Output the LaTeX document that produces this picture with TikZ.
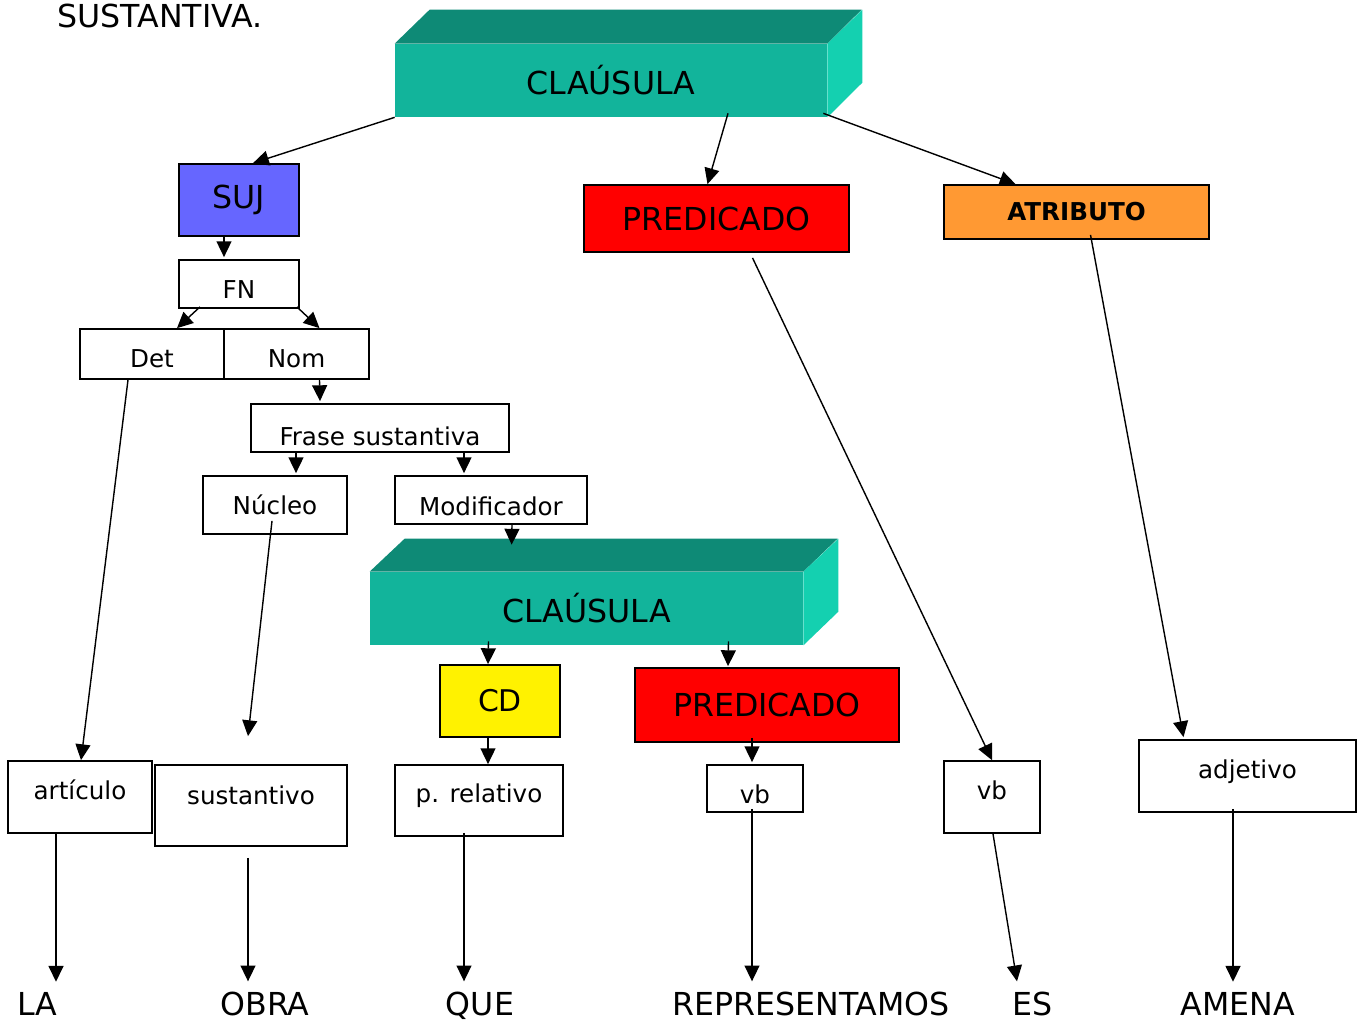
\documentclass[tikz,border=0pt]{standalone}
\usepackage{fontspec}
\setmainfont{DejaVu Sans}
\usetikzlibrary{arrows.meta,calc}

\definecolor{clfront}{RGB}{18,180,155}
\definecolor{cltop}{RGB}{14,138,118}
\definecolor{clside}{RGB}{20,208,176}
\definecolor{sujblue}{RGB}{102,102,255}
\definecolor{atrorange}{RGB}{255,153,51}

\tikzset{
  big/.style={font=\fontsize{18}{20}\selectfont},
  lbl/.style={font=\fontsize{14}{16}\selectfont},
  box/.style={draw,line width=1pt,inner sep=2pt,lbl},
  clbox/.style={fill=clfront,inner sep=0pt,big},
  arr/.style={-{Triangle[length=9pt,width=8.5pt]},line width=0.8pt},
}

\begin{document}
\begin{tikzpicture}[x=0.2mm,y=-0.2mm]
\useasboundingbox (0,0) rectangle (1363,1020);

\node[big,anchor=base west,inner sep=0pt] (title) at (57,27) {SUSTANTIVA.};

% first clause
\node[clbox,minimum width=8.64cm,minimum height=1.46cm] (clau1) at (611,80.5) {CLAÚSULA};
\fill[cltop] (clau1.north west) -- ++(35,-34) -- ++(432,0) -- (clau1.north east) -- cycle;
\fill[clside] (clau1.north east) -- ++(35,-34) -- ++(0,73) -- (clau1.south east) -- cycle;

\node[box,big,fill=sujblue,minimum width=2.4cm,minimum height=1.44cm] (suj) at (239,200) {SUJ};
\node[box,big,fill=red,minimum width=5.3cm,minimum height=1.34cm] (pred1) at (716.5,218.5) {PREDICADO};
\node[box,fill=atrorange,minimum width=5.3cm,minimum height=1.08cm,font=\bfseries\fontsize{14}{16}\selectfont] (atrib) at (1076.5,212) {ATRIBUTO};

\node[box,minimum width=2.4cm,minimum height=0.96cm,text height=17pt] (fn) at (239,284) {FN};
\node[box,minimum width=2.88cm,minimum height=1cm,text height=16pt] (det) at (152,354) {Det};
\node[box,minimum width=2.9cm,minimum height=1cm,text height=16pt] (nom) at (296.5,354) {Nom};
\node[box,minimum width=5.16cm,minimum height=0.96cm,text height=20pt] (frase) at (380,428) {Frase sustantiva};
\node[box,minimum width=2.88cm,minimum height=1.16cm] (nucleo) at (275,505) {Núcleo};
\node[box,minimum width=3.84cm,minimum height=0.96cm,text height=18pt] (modif) at (491,500) {Modificador};

% second clause
\node[clbox,minimum width=8.66cm,minimum height=1.46cm] (clau2) at (586.5,608.5) {CLAÚSULA};
\fill[cltop] (clau2.north west) -- ++(35,-33) -- ++(433,0) -- (clau2.north east) -- cycle;
\fill[clside] (clau2.north east) -- ++(35,-33) -- ++(0,73) -- (clau2.south east) -- cycle;

\node[box,fill=yellow,minimum width=2.4cm,minimum height=1.44cm,font=\fontsize{17}{19}\selectfont] (cd) at (500,701) {CD};
\node[box,big,fill=red,minimum width=5.28cm,minimum height=1.48cm] (pred2) at (767,705) {PREDICADO};

\node[box,minimum width=2.88cm,minimum height=1.44cm,text depth=8pt] (artic) at (80,797) {artículo};
\node[box,minimum width=3.84cm,minimum height=1.62cm,text depth=12pt] (sust) at (251,805.5) {sustantivo};
\node[box,minimum width=3.36cm,minimum height=1.42cm,text depth=8pt] (prel) at (479,800.5) {p. relativo};
\node[box,minimum width=1.92cm,minimum height=0.94cm,text height=17pt] (vba) at (755,788.5) {vb};
\node[box,minimum width=1.92cm,minimum height=1.44cm,text depth=8pt] (vbb) at (992,797) {vb};
\node[box,minimum width=4.34cm,minimum height=1.44cm,text depth=8pt] (adj) at (1247.5,776) {adjetivo};

% words
\node[big,anchor=base] (la) at (37,1015) {LA};
\node[big,anchor=base] (obra) at (265,1015) {OBRA};
\node[big,anchor=base] (que) at (480,1015) {QUE};
\node[big,anchor=base] (repr) at (811,1015) {REPRESENTAMOS};
\node[big,anchor=base] (es) at (1033,1015) {ES};
\node[big,anchor=base] (amena) at (1238,1015) {AMENA};

% connectors
\draw[arr] (clau1.south west) -- ($(suj.north)+(14,0)$);
\draw[arr] ($(clau1.south)+(117,-4)$) -- ($(pred1.north)+(-9,0)$);
\draw[arr] ($(clau1.south east)+(-4,-4)$) -- ($(atrib.north)+(-61,0)$);
\draw[arr] ($(suj.south)+(-15,0)$) -- ($(fn.north)+(-15,-2)$);
\draw[arr] ($(fn.south)+(-39,-2)$) -- ($(det.north)+(25,0)$);
\draw[arr] ($(fn.south east)+(-3,-2)$) -- ($(nom.north)+(23,0)$);
\draw[arr] ($(nom.south)+(23,0)$) -- ($(frase.north)+(-60,-2)$);
\draw[arr] ($(frase.south)+(-84,0)$) -- ($(nucleo.north)+(21,-2)$);
\draw[arr] ($(frase.south)+(84,0)$) -- ($(modif.north)+(-27,-2)$);
\draw[arr] ($(modif.south)+(21,0)$) -- ($(clau2.north west)+(142,-27)$);
\draw[arr] ($(clau2.south)+(-98,-4)$) -- ($(cd.north)+(-12,0)$);
\draw[arr] ($(clau2.south)+(142,-4)$) -- ($(pred2.north)+(-39,-1)$);
\draw[arr] ($(cd.south)+(-12,0)$) -- ($(prel.north)+(9,0)$);
\draw[arr] ($(pred2.south)+(-15,-5)$) -- ($(vba.north)+(-3,-2)$);
\draw[arr] ($(pred1.south)+(36,5)$) -- (vbb.north);
\draw[arr] ($(det.south)+(-24,0)$) -- ($(artic.north)+(1,0)$);
\draw[arr] ($(nucleo.south)+(-3,-14)$) -- ($(sust.north)+(-3,-28)$);
\draw[arr] ($(atrib.south)+(14,-5)$) -- ($(adj.north)+(-64,-2)$);

\draw[arr] ($(artic.south)+(-24,0)$) -- ($(la.north)+(19,-4)$);
\draw[arr] ($(sust.south)+(-3,11)$) -- ($(obra.north)+(-17,-4)$);
\draw[arr] ($(prel.south)+(-15,-4)$) -- ($(que.north)+(-16,-4)$);
\draw[arr] ($(vba.south)+(-3,-4)$) -- ($(repr.north)+(-59,-4)$);
\draw[arr] ($(vbb.south)+(1,0)$) -- ($(es.north)+(-16,-4)$);
\draw[arr] ($(adj.south)+(-14.5,-4)$) -- ($(amena.north)+(-5,-4)$);
\end{tikzpicture}
\end{document}
